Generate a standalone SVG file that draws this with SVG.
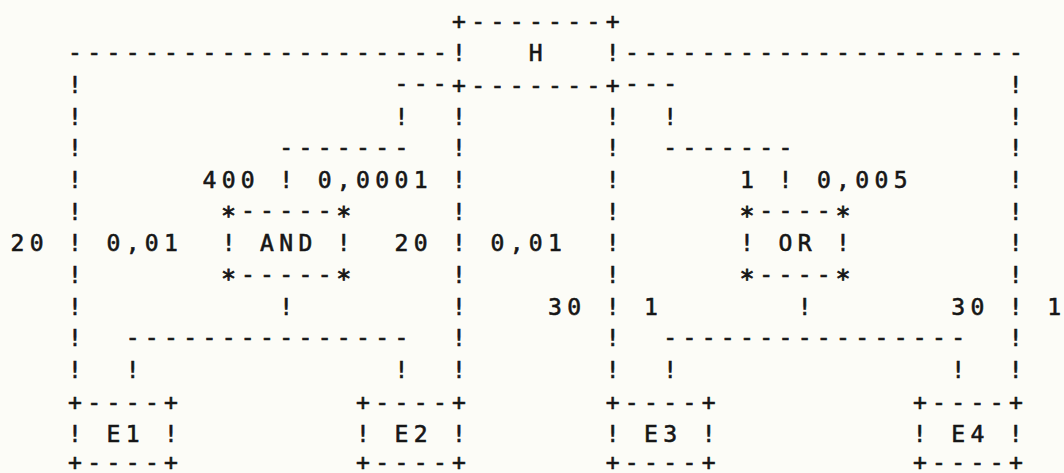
<svg xmlns="http://www.w3.org/2000/svg" width="1064" height="473" viewBox="0 0 1064 473">
<style>
text{font-family:"DejaVu Sans Mono","Liberation Mono",monospace;font-size:23px;letter-spacing:5.353px;fill:#161616;stroke:#161616;stroke-width:0.6px;}
text.c{letter-spacing:0;text-anchor:middle;}
text.s{font-size:25px;letter-spacing:0;text-anchor:middle;stroke-width:0.8px;}
</style>
<rect width="1064" height="473" fill="#fcfcf7"/>
<g id="connectors">
<text x="68.08" y="59.6">--------------------</text>
<text x="624.88" y="59.6">---------------------</text>
<text x="394.48" y="91.3">---</text>
<text x="624.88" y="91.3">---</text>
<text x="279.28" y="154.7">-------</text>
<text x="663.28" y="154.7">-------</text>
<text x="125.68" y="344.9">---------------</text>
<text x="663.28" y="344.9">----------------</text>
<text class="c" x="75 75 75 75 75 75 75 75 75 75" y="92.8 124.5 156.2 187.9 219.6 251.3 283 314.7 346.4 378.1">!!!!!!!!!!</text>
<text class="c" x="1015.8 1015.8 1015.8 1015.8 1015.8 1015.8 1015.8 1015.8 1015.8 1015.8" y="92.8 124.5 156.2 187.9 219.6 251.3 283 314.7 346.4 378.1">!!!!!!!!!!</text>
<text class="c" x="459 459 459 459 459 459 459 459 459" y="124.5 156.2 187.9 219.6 251.3 283 314.7 346.4 378.1">!!!!!!!!!</text>
<text class="c" x="612.6 612.6 612.6 612.6 612.6 612.6 612.6 612.6 612.6" y="124.5 156.2 187.9 219.6 251.3 283 314.7 346.4 378.1">!!!!!!!!!</text>
<text class="c" x="401.4" y="124.5">!</text>
<text class="c" x="401.4" y="378.1">!</text>
<text class="c" x="670.2" y="124.5">!</text>
<text class="c" x="670.2" y="378.1">!</text>
<text class="c" x="286.2" y="187.9">!</text>
<text class="c" x="286.2" y="314.7">!</text>
<text class="c" x="785.4" y="187.9">!</text>
<text class="c" x="804.6" y="314.7">!</text>
<text class="c" x="132.6" y="378.1">!</text>
<text class="c" x="958.2" y="378.1">!</text>
</g>
<g id="labels">
<text x="202.48" y="187.9">400</text>
<text x="317.68" y="187.9">0,0001</text>
<text class="c" x="747" y="187.9">1</text>
<text x="816.88" y="187.9">0,005</text>
<text x="10.48" y="251.3">20</text>
<text x="106.48" y="251.3">0,01</text>
<text x="394.48" y="251.3">20</text>
<text x="490.48" y="251.3">0,01</text>
<text x="548.08" y="314.7">30</text>
<text class="c" x="651" y="314.7">1</text>
<text x="951.28" y="314.7">30</text>
<text class="c" x="1054.2" y="314.7">1</text>
</g>
<g id="H">
<text x="452.08" y="29.4">+-------+</text>
<text class="c" x="459" y="61.1">!</text>
<text class="c" x="535.8" y="61.1">H</text>
<text class="c" x="612.6" y="61.1">!</text>
<text x="452.08" y="92.8">+-------+</text>
</g>
<g id="AND">
<text class="s" x="228.6" y="223.7">*</text>
<text class="s" x="343.8" y="223.7">*</text>
<text x="240.88" y="218.1">-----</text>
<text class="c" x="228.6" y="251.3">!</text>
<text x="260.08" y="251.3">AND</text>
<text class="c" x="343.8" y="251.3">!</text>
<text class="s" x="228.6" y="287.1">*</text>
<text class="s" x="343.8" y="287.1">*</text>
<text x="240.88" y="281.5">-----</text>
</g>
<g id="OR">
<text class="s" x="747" y="223.7">*</text>
<text class="s" x="843" y="223.7">*</text>
<text x="759.28" y="218.1">----</text>
<text class="c" x="747" y="251.3">!</text>
<text x="778.48" y="251.3">OR</text>
<text class="c" x="843" y="251.3">!</text>
<text class="s" x="747" y="287.1">*</text>
<text class="s" x="843" y="287.1">*</text>
<text x="759.28" y="281.5">----</text>
</g>
<g id="E1">
<text x="68.08" y="409.8">+----+</text>
<text class="c" x="75" y="441.5">!</text>
<text x="106.48" y="441.5">E1</text>
<text class="c" x="171" y="441.5">!</text>
<text x="68.08" y="470">+----+</text>
</g>
<g id="E2">
<text x="356.08" y="409.8">+----+</text>
<text class="c" x="363" y="441.5">!</text>
<text x="394.48" y="441.5">E2</text>
<text class="c" x="459" y="441.5">!</text>
<text x="356.08" y="470">+----+</text>
</g>
<g id="E3">
<text x="605.68" y="409.8">+----+</text>
<text class="c" x="612.6" y="441.5">!</text>
<text x="644.08" y="441.5">E3</text>
<text class="c" x="708.6" y="441.5">!</text>
<text x="605.68" y="470">+----+</text>
</g>
<g id="E4">
<text x="912.88" y="409.8">+----+</text>
<text class="c" x="919.8" y="441.5">!</text>
<text x="951.28" y="441.5">E4</text>
<text class="c" x="1015.8" y="441.5">!</text>
<text x="912.88" y="470">+----+</text>
</g>
</svg>
